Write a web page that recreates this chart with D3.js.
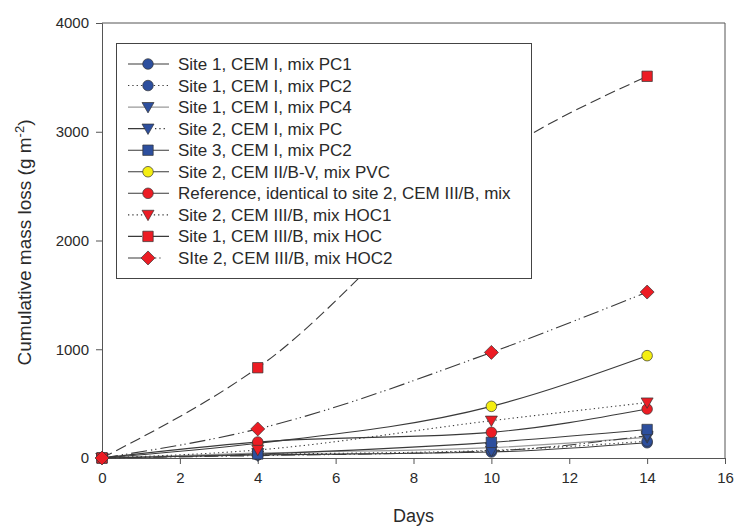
<!DOCTYPE html>
<html>
<head>
<meta charset="utf-8">
<script src="https://cdn.jsdelivr.net/npm/d3@7"></script>
<style>
  html, body { margin: 0; padding: 0; background: #fff; }
  svg { display: block; font-family: "Liberation Sans", Arial, sans-serif; }
</style>
</head>
<body>
<svg id="chart" width="734" height="529"></svg>
<script>
// Sampling days
const days = [0, 4, 10, 14];

// Cumulative mass loss (g m-2) per mix
const site1PC1 = [0, 28, 55, 140];
const site1PC2 = [0, 32, 70, 155];
const site1PC4 = [0, 45, 95, 190];
const site2PC = [0, 22, 65, 205];
const site3PC2 = [0, 37, 144, 262];
const site2PVC = [0, 135, 475, 941];
const reference = [0, 147, 236, 450];
const site2HOC1 = [0, 74, 343, 510];
const site1HOC = [0, 830, 2750, 3510];
const site2HOC2 = [0, 267, 971, 1526];

const seriesNames = [
  "Site 1, CEM I, mix PC1",
  "Site 1, CEM I, mix PC2",
  "Site 1, CEM I, mix PC4",
  "Site 2, CEM I, mix PC",
  "Site 3, CEM I, mix PC2",
  "Site 2, CEM II/B-V, mix PVC",
  "Reference, identical to site 2, CEM III/B, mix",
  "Site 2, CEM III/B, mix HOC1",
  "Site 1, CEM III/B, mix HOC",
  "SIte 2, CEM III/B, mix HOC2"
];
const seriesValues = [site1PC1, site1PC2, site1PC4, site2PC, site3PC2,
                      site2PVC, reference, site2HOC1, site1HOC, site2HOC2];

const xTicks = [0, 2, 4, 6, 8, 10, 12, 14, 16];
const yTicks = [0, 1000, 2000, 3000, 4000];

// Visual encoding per series
const BLUE = "#2d4f9e", RED = "#ec1c24", YELLOW = "#f4ee12";
const styles = [
  { symbol: "circle",   fill: BLUE,   line: "#3a3a3a", dash: null },
  { symbol: "circle",   fill: BLUE,   line: "#3a3a3a", dash: "1.3,3" },
  { symbol: "triangle", fill: BLUE,   line: "#9a9a9a", dash: null },
  { symbol: "triangle", fill: BLUE,   line: "#3a3a3a", dash: "14,3,1.3,3,1.3,3" },
  { symbol: "square",   fill: BLUE,   line: "#3a3a3a", dash: null },
  { symbol: "circle",   fill: YELLOW, line: "#3a3a3a", dash: null },
  { symbol: "circle",   fill: RED,    line: "#3a3a3a", dash: null },
  { symbol: "triangle", fill: RED,    line: "#3a3a3a", dash: "1.3,3" },
  { symbol: "square",   fill: RED,    line: "#3a3a3a", dash: "11,5" },
  { symbol: "diamond",  fill: RED,    line: "#3a3a3a", dash: "16,4,1.3,3,1.3,4" }
];
// Short legend samples: a dash on the left of the marker, the pattern's dots on the right
const legendDash = [null, "1.3,3", null, "17,10,1.3,3,1.3,3,1.3,30", null,
                    null, null, "1.3,3", "14,10,20", "17,10,1.3,3,1.3,30"];

const series = seriesNames.map((name, i) => ({
  name, style: styles[i],
  points: days.map((d, j) => ({ day: d, value: seriesValues[i][j] }))
}));

const svg = d3.select("#chart");
const margin = { left: 102, right: 9, top: 23, bottom: 71 };
const W = 734, H = 529;
const x = d3.scaleLinear().domain([0, 16]).range([margin.left, W - margin.right]);
const y = d3.scaleLinear().domain([0, 4000]).range([H - margin.bottom, margin.top]);

const axisColor = "#555";
const textColor = "#2a2a2a";

// Frame (top and right edges)
svg.append("path")
  .attr("d", `M${x(0)},${y(4000)}H${x(16)}V${y(0)}`)
  .attr("fill", "none").attr("stroke", axisColor).attr("stroke-width", 1);

// Axes
const xAxis = svg.append("g")
  .attr("transform", `translate(0,${y(0)})`)
  .call(d3.axisBottom(x).tickValues(xTicks).tickSize(6).tickPadding(8).tickFormat(d3.format("d")));
const yAxis = svg.append("g")
  .attr("transform", `translate(${x(0)},0)`)
  .call(d3.axisLeft(y).tickValues(yTicks).tickSize(6).tickPadding(7).tickFormat(d3.format("d")));
[xAxis, yAxis].forEach(g => {
  g.select(".domain").attr("stroke", axisColor).attr("stroke-width", 1);
  g.selectAll(".tick line").attr("stroke", axisColor);
  g.selectAll(".tick text").attr("fill", textColor)
    .style("font-size", "15px").style("font-family", "Liberation Sans, Arial, sans-serif");
});

// Axis titles
svg.append("text")
  .attr("x", (x(0) + x(16)) / 2).attr("y", 522)
  .attr("text-anchor", "middle").attr("fill", textColor)
  .style("font-size", "18px").text("Days");

const yTitle = svg.append("text")
  .attr("transform", `translate(31,${(y(0) + y(4000)) / 2 + 2}) rotate(-90)`)
  .attr("text-anchor", "middle").attr("fill", textColor)
  .style("font-size", "19px");
yTitle.append("tspan").text("Cumulative mass loss (g m");
yTitle.append("tspan").attr("dy", -7).style("font-size", "13px").text("-2");
yTitle.append("tspan").attr("dy", 7).text(")");

// Marker shapes
function symbolPath(kind) {
  switch (kind) {
    case "triangle": return "M-6,-4.6L6,-4.6L0,5.8Z";
    case "diamond":  return "M0,-7L7,0L0,7L-7,0Z";
    case "square":   return "M-5.2,-5.2H5.2V5.2H-5.2Z";
    default:         return d3.symbol().type(d3.symbolCircle).size(88)();
  }
}

const line = d3.line()
  .x(d => x(d.day)).y(d => y(d.value))
  .curve(d3.curveMonotoneX);

// Lines
const plot = svg.append("g");
series.forEach(s => {
  plot.append("path")
    .datum(s.points)
    .attr("d", line)
    .attr("fill", "none")
    .attr("stroke", s.style.line)
    .attr("stroke-width", 1.1)
    .attr("stroke-dasharray", s.style.dash);
});

// Markers
series.forEach(s => {
  plot.selectAll(null)
    .data(s.points)
    .enter().append("path")
    .attr("transform", d => `translate(${x(d.day)},${y(d.value)})`)
    .attr("d", symbolPath(s.style.symbol))
    .attr("fill", s.style.fill)
    .attr("stroke", "#333")
    .attr("stroke-width", 0.7);
});

// Legend
const lg = svg.append("g");
lg.append("rect")
  .attr("x", 116.5).attr("y", 43.5).attr("width", 415).attr("height", 235)
  .attr("fill", "#fff").attr("stroke", "#444").attr("stroke-width", 1);

series.forEach((s, i) => {
  const cy = 64 + i * 21.55;
  const row = lg.append("g").attr("transform", `translate(0,${cy})`);
  row.append("line")
    .attr("x1", 128).attr("x2", 169).attr("y1", 0).attr("y2", 0)
    .attr("stroke", s.style.line)
    .attr("stroke-width", 1.1)
    .attr("stroke-dasharray", legendDash[i]);
  row.append("path")
    .attr("transform", "translate(148,0)")
    .attr("d", symbolPath(s.style.symbol))
    .attr("fill", s.style.fill).attr("stroke", "#333").attr("stroke-width", 0.7);
  row.append("text")
    .attr("x", 178).attr("y", 6)
    .attr("fill", textColor)
    .style("font-size", "17px")
    .text(s.name);
});
</script>
</body>
</html>
